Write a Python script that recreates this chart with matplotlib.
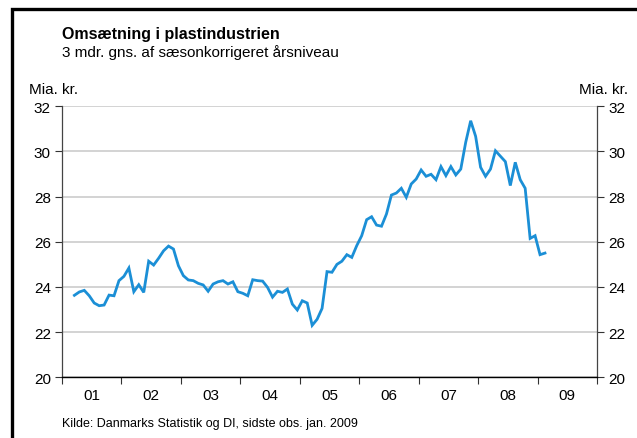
import matplotlib
matplotlib.use("Agg")
import matplotlib.pyplot as plt
import numpy as np
from matplotlib.lines import Line2D

plt.rcParams['font.family'] = ['Liberation Sans', 'DejaVu Sans']

title = "Omsætning i plastindustrien"
subtitle = "3 mdr. gns. af sæsonkorrigeret årsniveau"
source = "Kilde: Danmarks Statistik og DI, sidste obs. jan. 2009"
unit = "Mia. kr."

# monthly observations, first one is March 2001
first_month = 3
first_year = 2001
values = [23.63, 23.78, 23.85, 23.61, 23.29, 23.17, 23.20, 23.64, 23.61, 24.28,
          24.47, 24.84, 23.79, 24.10, 23.76, 25.14, 24.97, 25.27, 25.60, 25.81,
          25.68, 24.94, 24.50, 24.31, 24.28, 24.16, 24.09, 23.81, 24.13, 24.23,
          24.28, 24.13, 24.23, 23.79, 23.72, 23.61, 24.32, 24.28, 24.26, 23.98,
          23.55, 23.81, 23.76, 23.91, 23.24, 22.98, 23.39, 23.29, 22.30, 22.57,
          23.05, 24.68, 24.65, 25.00, 25.14, 25.43, 25.31, 25.83, 26.27, 26.98,
          27.11, 26.74, 26.69, 27.23, 28.07, 28.16, 28.37, 27.97, 28.56, 28.78,
          29.18, 28.90, 28.99, 28.75, 29.33, 28.93, 29.33, 28.96, 29.22, 30.41,
          31.36, 30.67, 29.30, 28.90, 29.22, 30.03, 29.79, 29.55, 28.49, 29.52,
          28.75, 28.37, 26.15, 26.27, 25.43, 25.50]

years = list(range(2001, 2010))
year_labels = ["01", "02", "03", "04", "05", "06", "07", "08", "09"]
yticks = [20, 22, 24, 26, 28, 30, 32]

# mid-month position in decimal years
idx = np.arange(len(values))
x = first_year + (first_month - 1 + idx + 0.5) / 12.0

W, H = 637, 439
fig = plt.figure(figsize=(W / 100, H / 100), dpi=100)
fig.patch.set_facecolor("white")

ax = fig.add_axes([62 / W, (H - 378.3) / H, 535 / W, 271 / H])
ax.plot(x, values, color="#1B8FD6", lw=2.0, solid_joinstyle="miter")

ax.set_xlim(2001, 2010)
ax.set_ylim(20, 32)
ax.set_yticks(yticks)
ax.set_yticklabels([str(t) for t in yticks])
ax.grid(axis="y", color="#cccccc", lw=1.2)
ax.set_axisbelow(True)

ax.set_xticks(years + [2010])
ax.set_xticklabels([])
ax.set_xticks([y + 0.5 for y in years], minor=True)
ax.set_xticklabels(year_labels, minor=True)
ax.tick_params(axis="x", which="major", direction="out", length=5, width=0.8, color="#333333")
ax.tick_params(axis="x", which="minor", length=0, pad=8, labelsize=11)
ax.tick_params(axis="y", direction="out", length=5, width=0.8, color="#333333",
               labelsize=11, left=True, right=True, labelleft=True, labelright=True, pad=3)

ax.spines["top"].set_visible(False)
for s in ["left", "right"]:
    ax.spines[s].set_color("#444444")
    ax.spines[s].set_linewidth(0.9)
ax.spines["bottom"].set_color("black")
ax.spines["bottom"].set_linewidth(1.0)

fig.text(62 / W, 1 - 38.5 / H, title, fontsize=11.5, fontweight="bold", va="baseline")
fig.text(62 / W, 1 - 56.5 / H, subtitle, fontsize=11, va="baseline")
fig.text(29 / W, 1 - 93.5 / H, unit, fontsize=11, va="baseline")
fig.text(628 / W, 1 - 93.5 / H, unit, fontsize=11, va="baseline", ha="right")
fig.text(62 / W, 1 - 427 / H, source, fontsize=9, va="baseline")

# outer frame, only left and top visible in the crop
fig.add_artist(Line2D([11.5 / W, 11.5 / W, 1.01], [-0.01, 1 - 9.5 / H, 1 - 9.5 / H],
                      transform=fig.transFigure, color="black", lw=2.4,
                      solid_joinstyle="miter"))

fig.savefig("out.png", dpi=100)
